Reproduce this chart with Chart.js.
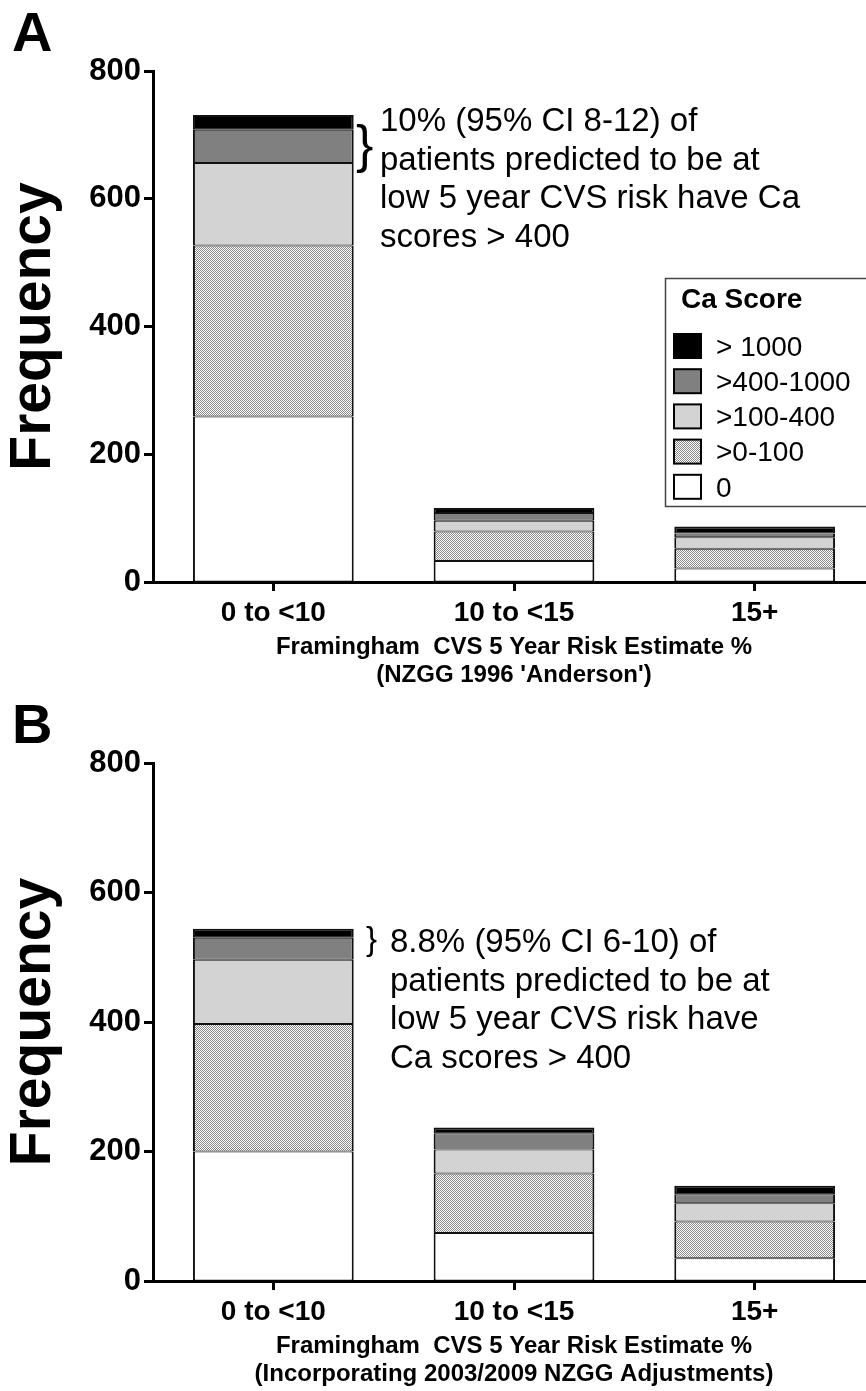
<!DOCTYPE html>
<html>
<head>
<meta charset="utf-8">
<script src="https://cdn.jsdelivr.net/npm/chart.js@4.4.1/dist/chart.umd.min.js"></script>
<style>
  html, body { margin: 0; padding: 0; background: #fff; overflow: hidden; }
  canvas { display: block; }
</style>
</head>
<body>
<canvas id="chartA" width="875" height="692"></canvas>
<canvas id="chartB" width="875" height="699"></canvas>
<script>
const categories = ['0 to <10', '10 to <15', '15+'];
const scoreGroups = ['0', '>0-100', '>100-400', '>400-1000', '> 1000'];
const yTicks = [0, 200, 400, 600, 800];

// panel A (NZGG 1996)
const aZero = [259, 33, 21];
const aUpTo100 = [268, 46, 31];
const aUpTo400 = [129, 17, 18];
const aUpTo1000 = [52, 12, 6];
const aOver1000 = [23, 8, 11];

// panel B (2003/2009 adjustments)
const bZero = [200, 74, 35];
const bUpTo100 = [197, 92, 57];
const bUpTo400 = [99, 37, 28];
const bUpTo1000 = [34, 25, 14];
const bOver1000 = [14, 9, 13];

const xTitleA = ['Framingham  CVS 5 Year Risk Estimate %', "(NZGG 1996 'Anderson')"];
const xTitleB = ['Framingham  CVS 5 Year Risk Estimate %', '(Incorporating 2003/2009 NZGG Adjustments)'];
const noteA = ['10% (95% CI 8-12) of', 'patients predicted to be at', 'low 5 year CVS risk have Ca', 'scores > 400'];
const noteB = ['8.8% (95% CI 6-10) of', 'patients predicted to be at', 'low 5 year CVS risk have', 'Ca scores > 400'];

const FONT = "'Liberation Sans', Arial, Helvetica, sans-serif";

function checker(ctx) {
  const c = document.createElement('canvas');
  c.width = 2; c.height = 2;
  const g = c.getContext('2d');
  g.fillStyle = '#ffffff'; g.fillRect(0, 0, 2, 2);
  g.fillStyle = '#888888'; g.fillRect(0, 0, 1, 1); g.fillRect(1, 1, 1, 1);
  return ctx.createPattern(c, 'repeat');
}

// panel letter, note with brace, and the Ca Score legend
const decor = {
  id: 'decor',
  afterDraw(chart, args, o) {
    const ctx = chart.ctx;
    ctx.save();
    ctx.fillStyle = '#000';
    ctx.textAlign = 'left';
    ctx.textBaseline = 'alphabetic';
    ctx.font = 'bold 56px ' + FONT;
    ctx.fillText(o.letter, 12, 51);

    // brace
    ctx.font = o.braceSize + 'px ' + FONT;
    ctx.fillText('}', o.braceX, o.braceY);

    ctx.font = '33px ' + FONT;
    o.note.forEach((line, i) => ctx.fillText(line, o.noteX, o.noteY + i * 38.7));

    if (o.legend) {
      ctx.strokeStyle = '#444';
      ctx.lineWidth = 1.5;
      ctx.fillStyle = '#fff';
      ctx.fillRect(665, 278, 260, 228);
      ctx.strokeRect(665.5, 278.5, 260, 228);
      ctx.fillStyle = '#000';
      ctx.font = 'bold 28px ' + FONT;
      ctx.fillText('Ca Score', 681, 308);
      ctx.font = '28px ' + FONT;
      ctx.textBaseline = 'middle';
      chart.data.datasets.slice().reverse().forEach((ds, i) => {
        const y = 346 + i * 35.2;
        ctx.fillStyle = ds.backgroundColor;
        ctx.fillRect(674, y - 12, 27, 24);
        ctx.strokeStyle = '#000';
        ctx.lineWidth = 2;
        ctx.strokeRect(674, y - 12, 27, 24);
        ctx.fillStyle = '#000';
        ctx.fillText(ds.label, 716, y + 2);
      });
    }
    ctx.restore();
  }
};

function makeChart(id, series, xTitle, decorOpts) {
  const canvas = document.getElementById(id);
  const ctx = canvas.getContext('2d');
  const fills = ['#ffffff', checker(ctx), '#d3d3d3', '#808080', '#000000'];
  const last = series.length - 1;
  return new Chart(ctx, {
    type: 'bar',
    data: {
      labels: categories,
      datasets: series.map((vals, i) => ({
        label: scoreGroups[i],
        data: vals,
        backgroundColor: fills[i],
        borderColor: '#111',
        borderWidth: { top: i === last ? 2 : 1, bottom: 1, left: 2, right: 2 },
        borderSkipped: false,
        inflateAmount: 0,
        barPercentage: 0.668,
        categoryPercentage: 1
      }))
    },
    options: {
      responsive: false,
      animation: false,
      devicePixelRatio: 1,
      layout: { padding: { top: 71, right: 0, bottom: 0, left: 0 } },
      plugins: {
        legend: { display: false },
        tooltip: { enabled: false },
        decor: decorOpts
      },
      scales: {
        x: {
          stacked: true,
          afterFit(scale) { scale.height = 110; },
          grid: {
            offset: false,
            drawOnChartArea: false,
            drawTicks: true,
            tickLength: 9,
            tickWidth: 3,
            tickColor: '#000'
          },
          border: { display: true, color: '#000', width: 3 },
          ticks: {
            color: '#000',
            padding: 5,
            maxRotation: 0,
            font: { family: FONT, size: 28, weight: 'bold' }
          },
          title: {
            display: true,
            text: xTitle,
            color: '#000',
            padding: { top: 0, bottom: 3 },
            font: { family: FONT, size: 24, weight: 'bold', lineHeight: 1.17 }
          }
        },
        y: {
          stacked: true,
          min: 0,
          max: 800,
          afterFit(scale) { scale.width = 153; },
          afterBuildTicks(scale) { scale.ticks = yTicks.map(v => ({ value: v })); },
          grid: {
            drawOnChartArea: false,
            drawTicks: true,
            tickLength: 9,
            tickWidth: 3,
            tickColor: '#000'
          },
          border: { display: true, color: '#000', width: 3 },
          ticks: {
            color: '#000',
            padding: 3,
            font: { family: FONT, size: 31, weight: 'bold' }
          },
          title: {
            display: true,
            text: 'Frequency',
            color: '#000',
            padding: { top: 6, bottom: 0 },
            font: { family: FONT, size: 57, weight: 'bold', lineHeight: 1 }
          }
        }
      }
    },
    plugins: [decor]
  });
}

makeChart('chartA', [aZero, aUpTo100, aUpTo400, aUpTo1000, aOver1000], xTitleA, {
  letter: 'A', note: noteA, noteX: 380, noteY: 131,
  braceX: 356, braceY: 162, braceSize: 52, legend: true
});

makeChart('chartB', [bZero, bUpTo100, bUpTo400, bUpTo1000, bOver1000], xTitleB, {
  letter: 'B', note: noteB, noteX: 390, noteY: 260,
  braceX: 366, braceY: 258, braceSize: 33, legend: false
});
</script>
</body>
</html>
